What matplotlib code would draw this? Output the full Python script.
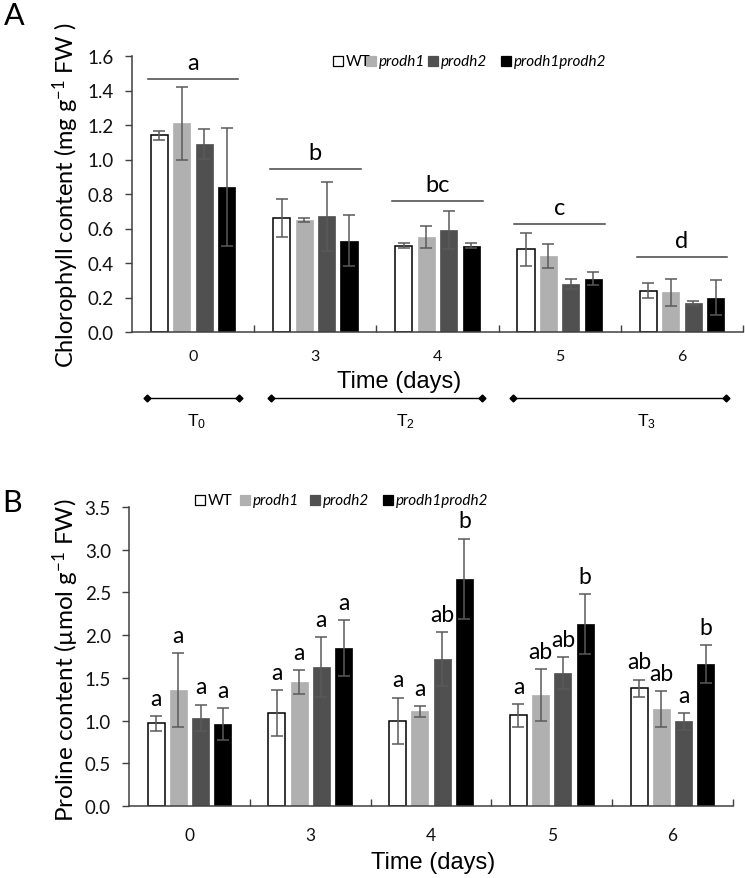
import matplotlib
matplotlib.use("Agg")
import matplotlib.pyplot as plt
import numpy as np
from matplotlib.patches import Rectangle
from matplotlib.lines import Line2D

plt.rcParams['font.family'] = ['Lato', 'DejaVu Sans']
plt.rcParams['mathtext.default'] = 'regular'

# ---------------- data ----------------
days = ['0', '3', '4', '5', '6']
series = ['WT', 'prodh1', 'prodh2', 'prodh1prodh2']

chl_wt = [1.14, 0.66, 0.50, 0.48, 0.24]
chl_p1 = [1.21, 0.65, 0.55, 0.44, 0.23]
chl_p2 = [1.09, 0.67, 0.59, 0.28, 0.17]
chl_dbl = [0.84, 0.53, 0.50, 0.31, 0.20]
chl_wt_err = [0.025, 0.11, 0.015, 0.095, 0.045]
chl_p1_err = [0.21, 0.012, 0.065, 0.07, 0.08]
chl_p2_err = [0.087, 0.20, 0.11, 0.03, 0.012]
chl_dbl_err = [0.34, 0.15, 0.015, 0.035, 0.10]
chl_letters = ['a', 'b', 'bc', 'c', 'd']
chl_letter_level = [1.467, 0.945, 0.76, 0.626, 0.435]

pro_wt = [0.97, 1.09, 1.00, 1.06, 1.38]
pro_p1 = [1.36, 1.45, 1.11, 1.30, 1.14]
pro_p2 = [1.03, 1.63, 1.72, 1.56, 0.99]
pro_dbl = [0.96, 1.85, 2.66, 2.13, 1.66]
pro_wt_err = [0.088, 0.27, 0.27, 0.13, 0.10]
pro_p1_err = [0.43, 0.14, 0.065, 0.30, 0.21]
pro_p2_err = [0.157, 0.35, 0.32, 0.185, 0.10]
pro_dbl_err = [0.19, 0.33, 0.47, 0.35, 0.22]
pro_wt_let = ['a', 'a', 'a', 'a', 'ab']
pro_p1_let = ['a', 'a', 'a', 'ab', 'ab']
pro_p2_let = ['a', 'a', 'ab', 'ab', 'a']
pro_dbl_let = ['a', 'a', 'b', 'b', 'b']

phases = ['T$_0$', 'T$_2$', 'T$_3$']

# ---------------- style ----------------
W, H = 745, 879
colors = ['white', '#b0b0b0', '#505050', '#000000']
edges = ['#000000', '#b0b0b0', '#505050', '#000000']
axcol = '#404040'
errcol = '#5a5a5a'

fig = plt.figure(figsize=(W / 100, H / 100), dpi=100)


def fx(x):
    return x / W


def fy(y):
    return 1 - y / H


def make_ax(l, r, t, b):
    return fig.add_axes([fx(l), fy(b), (r - l) / W, (b - t) / H])


def bars(ax, vals, errs):
    x = np.arange(len(days))
    slot = 0.184
    width = 0.14
    for i, (v, e) in enumerate(zip(vals, errs)):
        pos = x + (i - 1.5) * slot
        ax.bar(pos, v, width, color=colors[i], edgecolor=edges[i],
               linewidth=1.1 if i == 0 else 0.5, zorder=2)
        ax.errorbar(pos, v, yerr=e, fmt='none', ecolor=errcol, elinewidth=1.1,
                    capsize=4, capthick=1.1, zorder=3)
    return x


def style_ax(ax, ymax, step, xfs, xpad):
    ax.set_xlim(-0.5, 4.5)
    ax.set_ylim(0, ymax)
    for s in ['top', 'right']:
        ax.spines[s].set_visible(False)
    for s in ['left', 'bottom']:
        ax.spines[s].set_color(axcol)
        ax.spines[s].set_linewidth(1.1)
    ax.set_yticks(np.arange(0, ymax + 1e-9, step))
    ax.set_yticklabels([f'{v:.1f}' for v in np.arange(0, ymax + 1e-9, step)])
    ax.tick_params(axis='y', direction='out', length=5, width=1, color=axcol,
                   labelsize=13.5, pad=8, labelcolor='#111111')
    ax.set_xticks(np.arange(0.5, 4.6, 1.0))
    ax.set_xticklabels([])
    ax.tick_params(axis='x', which='major', direction='in', length=5, width=1, color=axcol)
    ax.set_xticks(np.arange(5), minor=True)
    ax.set_xticklabels(days, minor=True)
    ax.tick_params(axis='x', which='minor', length=0, labelsize=xfs, pad=xpad,
                   labelcolor='#111111')


def legend(xs, y):
    sq = 10
    for i, name in enumerate(series):
        x0 = xs[i]
        fig.add_artist(Rectangle((fx(x0), fy(y + sq / 2)), sq / W, sq / H,
                                 transform=fig.transFigure,
                                 facecolor=colors[i], edgecolor=edges[i], lw=0.9))
        fig.text(fx(x0 + sq + 3), fy(y), name, fontsize=11,
                 style='normal' if i == 0 else 'italic', va='center', ha='left')


# ---------------- panel A ----------------
axA = make_ax(132, 743, 57, 333)
xA = bars(axA, [chl_wt, chl_p1, chl_p2, chl_dbl],
          [chl_wt_err, chl_p1_err, chl_p2_err, chl_dbl_err])
style_ax(axA, 1.6, 0.2, 11.5, 12)
for i, (lab, lev) in enumerate(zip(chl_letters, chl_letter_level)):
    axA.plot([i - 0.37, i + 0.37], [lev, lev], color='#444444', lw=1.1)
    axA.annotate(lab, (i, lev), xytext=(0, 7), textcoords='offset points',
                 ha='center', va='baseline', fontsize=17)

fig.text(fx(66), fy(195), 'Chlorophyll content (mg g$^{-1}$ FW )', rotation=90,
         ha='center', va='center', fontsize=17)
fig.text(fx(14), fy(16), 'A', fontsize=22, ha='center', va='center')
fig.text(fx(399), fy(382), 'Time (days)', fontsize=17, family='Liberation Sans',
         ha='center', va='center')
legend([333, 366, 428, 501], 62)

# phase lines
phase_spans = [(147, 239), (271, 482), (513, 726)]
phase_label_x = [197, 405, 647]
for (a, b), lab, lx in zip(phase_spans, phases, phase_label_x):
    fig.add_artist(Line2D([fx(a), fx(b)], [fy(399), fy(399)], transform=fig.transFigure,
                          color='black', lw=1, marker='D', markersize=3.5))
    fig.text(fx(lx), fy(422), lab, fontsize=12.5, family='Liberation Sans',
             ha='center', va='center')

# ---------------- panel B ----------------
axB = make_ax(129, 733, 508, 807)
vals = [pro_wt, pro_p1, pro_p2, pro_dbl]
errs = [pro_wt_err, pro_p1_err, pro_p2_err, pro_dbl_err]
lets = [pro_wt_let, pro_p1_let, pro_p2_let, pro_dbl_let]
xB = bars(axB, vals, errs)
style_ax(axB, 3.5, 0.5, 12.5, 15)
for i in range(4):
    for j in range(5):
        axB.annotate(lets[i][j], (j + (i - 1.5) * 0.184, vals[i][j] + errs[i][j]),
                     xytext=(0, 8), textcoords='offset points',
                     ha='center', va='baseline', fontsize=16.5)

fig.text(fx(66), fy(660), 'Proline content (µmol g$^{-1}$ FW)', rotation=90,
         ha='center', va='center', fontsize=17.5)
fig.text(fx(12), fy(503), 'B', fontsize=22, ha='center', va='center')
fig.text(fx(433), fy(863), 'Time (days)', fontsize=17, family='Liberation Sans',
         ha='center', va='center')
legend([195, 240, 310, 383], 501)

fig.savefig('out.png', dpi=100, facecolor='white')
